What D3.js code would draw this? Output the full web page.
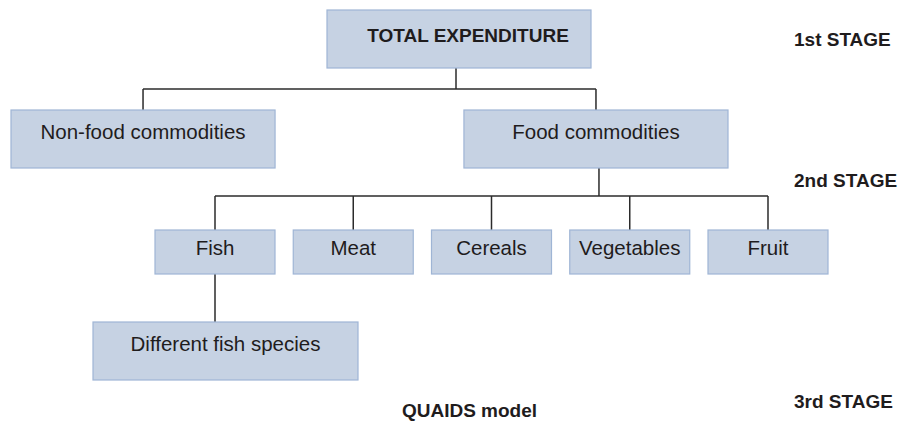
<!DOCTYPE html>
<html lang="en">
<head>
<meta charset="UTF-8">
<title>QUAIDS stages</title>
<script src="https://cdn.jsdelivr.net/npm/d3@7"></script>
<style>
  body { margin: 0; background: #fff; }
  svg text { font-family: "Liberation Sans", Arial, sans-serif; fill: #1f1c1d; }
</style>
</head>
<body>
<svg width="903" height="423"></svg>
<script>
// labels, level by level
var stage1 = ['TOTAL EXPENDITURE']
var stage2 = ['Non-food commodities', 'Food commodities']
var foodGroups = ['Fish', 'Meat', 'Cereals', 'Vegetables', 'Fruit']
var stage3 = ['Different fish species']
var stageLabels = ['1st STAGE', '2nd STAGE', '3rd STAGE']
var modelLabel = ['QUAIDS model']

var svg = d3.select('svg')
var boxFill = '#c6d2e3', boxStroke = '#9fb5d5', lineCol = '#2b2b2b'
var bigH = 58, smallH = 44

// row tops
var rowTop = { total: 10, commod: 110, groups: 230, species: 322 }

// x scales per row
var x1 = d3.scaleBand().domain(stage1).range([327, 591])
var x2 = d3.scaleBand().domain(stage2).range([11, 728]).paddingInner(0.417)
var xg = d3.scaleBand().domain(foodGroups).range([155, 828]).paddingInner(0.132)
var x3 = d3.scaleBand().domain(stage3).range([xg('Fish') - 62, xg('Fish') - 62 + 265])

function cx(scale, d) { return scale(d) + scale.bandwidth() / 2 }

// connectors
var lines = svg.append('g')
    .attr('stroke', lineCol)
    .attr('stroke-width', 1.5)
    .attr('fill', 'none')

function elbow(px, pBottom, barY, kids, kTop) {
    lines.append('line')
        .attr('x1', px).attr('y1', pBottom)
        .attr('x2', px).attr('y2', barY)
    lines.append('line')
        .attr('x1', d3.min(kids)).attr('y1', barY)
        .attr('x2', d3.max(kids)).attr('y2', barY)
    kids.forEach(function(k) {
        lines.append('line')
            .attr('x1', k).attr('y1', barY)
            .attr('x2', k).attr('y2', kTop)
    })
}

elbow(cx(x1, stage1[0]) - 3, rowTop.total + bigH, 89,
    stage2.map(function(d) { return cx(x2, d) }), rowTop.commod)
elbow(cx(x2, 'Food commodities') + 3, rowTop.commod + bigH, 196,
    foodGroups.map(function(d) { return cx(xg, d) }), rowTop.groups)
lines.append('line')
    .attr('x1', cx(xg, 'Fish')).attr('y1', rowTop.groups + smallH)
    .attr('x2', cx(xg, 'Fish')).attr('y2', rowTop.species)

// boxes
function boxes(data, scale, top, h, base, size, weight, dx) {
    var g = svg.append('g').selectAll('g')
        .data(data)
        .enter()
        .append('g')
    g.append('rect')
        .attr('x', function(d) { return scale(d) })
        .attr('y', top)
        .attr('width', scale.bandwidth())
        .attr('height', h)
        .attr('fill', boxFill)
        .attr('stroke', boxStroke)
        .attr('stroke-width', 1.2)
    g.append('text')
        .attr('x', function(d) { return cx(scale, d) + (dx || 0) })
        .attr('y', top + base)
        .attr('text-anchor', 'middle')
        .attr('font-size', size)
        .attr('font-weight', weight)
        .text(function(d) { return d })
}

boxes(stage1, x1, rowTop.total, bigH, 32, 19, 'bold', 9)
boxes(stage2, x2, rowTop.commod, bigH, 29, 20.5, 'normal')
boxes(foodGroups, xg, rowTop.groups, smallH, 25, 20.5, 'normal')
boxes(stage3, x3, rowTop.species, bigH, 29, 20.5, 'normal')

// stage labels on the right
var stageY = d3.scaleOrdinal().domain(stageLabels).range([46, 187, 408])
svg.append('g').selectAll('text')
    .data(stageLabels)
    .enter()
    .append('text')
    .attr('x', 794)
    .attr('y', function(d) { return stageY(d) })
    .attr('font-size', 19)
    .attr('font-weight', 'bold')
    .text(function(d) { return d })

svg.append('text')
    .data(modelLabel)
    .attr('x', 469.5)
    .attr('y', 417)
    .attr('text-anchor', 'middle')
    .attr('font-size', 19)
    .attr('font-weight', 'bold')
    .text(function(d) { return d })
</script>
</body>
</html>
